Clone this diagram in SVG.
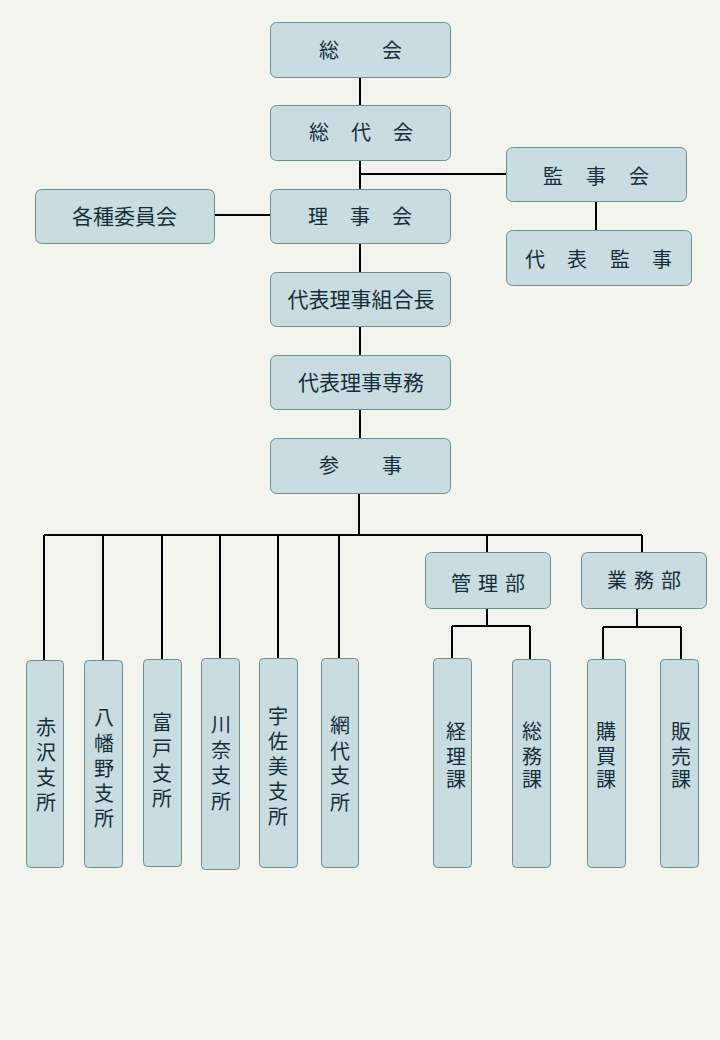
<svg xmlns="http://www.w3.org/2000/svg" width="720" height="1040" viewBox="0 0 720 1040">
<style>
.bg{fill:#f3f4ee}
.box{fill:#c9dce0;stroke:#6e8e90;stroke-width:1}
.t{font-family:"Noto Sans CJK JP","Noto Sans CJK SC",sans-serif;font-size:20px;font-weight:400;fill:#15303a;text-anchor:middle;dominant-baseline:central}
.h{font-size:21px}
.ln{stroke:#000;stroke-width:2;fill:none}
</style>
<rect class="bg" x="0" y="0" width="720" height="1040"/>
<g id="connectors">
<path class="ln" d="M360 77V272M360 174H506M214 215H270M596 201V230M360 326V355M360 409V438M359 493V535M44 535H642M44 535V660M103 535V660M162 535V659M220 535V658M278 535V658M339 535V658M487 535V552M642 535V552M487 608V626M452 626H530M452 626V658M530 626V659M637 608V627M603 627H681M603 627V659M681 627V659"/>
</g>
<g id="n-soukai"><rect class="box" x="270.5" y="22.5" width="180" height="55" rx="6"/><text class="t" x="329 360 392" y="49">総　会</text></g>
<g id="n-soudaikai"><rect class="box" x="270.5" y="105.5" width="180" height="55" rx="6"/><text class="t" x="319 340 361 382 403" y="131">総　代　会</text></g>
<g id="n-rijikai"><rect class="box" x="270.5" y="189.5" width="180" height="54" rx="6"/><text class="t" x="318 339 360 381 402" y="215">理　事　会</text></g>
<g id="n-iinkai"><rect class="box" x="35.5" y="189.5" width="179" height="54" rx="6"/><text class="t h" x="124.5" y="215">各種委員会</text></g>
<g id="n-kanjikai"><rect class="box" x="506.5" y="147.5" width="180" height="54" rx="6"/><text class="t" x="553 574.5 596 617.5 639" y="175">監　事　会</text></g>
<g id="n-daihyokanji"><rect class="box" x="506.5" y="230.5" width="185" height="55" rx="6"/><text class="t" x="535 556 577 598.5 620 641 662" y="258">代　表　監　事</text></g>
<g id="n-kumiaicho"><rect class="box" x="270.5" y="272.5" width="180" height="54" rx="6"/><text class="t h" x="361" y="298">代表理事組合長</text></g>
<g id="n-senmu"><rect class="box" x="270.5" y="355.5" width="180" height="54" rx="6"/><text class="t h" x="361" y="381">代表理事専務</text></g>
<g id="n-sanji"><rect class="box" x="270.5" y="438.5" width="180" height="55" rx="6"/><text class="t" x="329 360 392" y="464">参　事</text></g>
<g id="n-kanribu"><rect class="box" x="425.5" y="552.5" width="125" height="56" rx="6"/><text class="t" x="461 474.5 488 501.5 515" y="582">管 理 部</text></g>
<g id="n-gyomubu"><rect class="box" x="581.5" y="552.5" width="125" height="56" rx="6"/><text class="t" x="617 630.5 644 657.5 671" y="579">業 務 部</text></g>
<g id="n-akazawa"><rect class="box" x="26.5" y="660.5" width="37" height="207" rx="4"/><text class="t" x="46 46 46 46" y="726 751 776 801">赤沢支所</text></g>
<g id="n-yawatano"><rect class="box" x="84.5" y="660.5" width="38" height="207" rx="4"/><text class="t" x="104 104 104 104 104" y="716 742 767 792 817">八幡野支所</text></g>
<g id="n-futo"><rect class="box" x="143.5" y="659.5" width="38" height="207" rx="4"/><text class="t" x="162 162 162 162" y="721 747 772 797">富戸支所</text></g>
<g id="n-kawana"><rect class="box" x="201.5" y="658.5" width="38" height="211" rx="4"/><text class="t" x="221 221 221 221" y="723 749 774 800">川奈支所</text></g>
<g id="n-usami"><rect class="box" x="259.5" y="658.5" width="38" height="209" rx="4"/><text class="t" x="278 278 278 278 278" y="715 740 765 790 815">宇佐美支所</text></g>
<g id="n-ajiro"><rect class="box" x="321.5" y="658.5" width="37" height="209" rx="4"/><text class="t" x="340 340 340 340" y="724 750 774 801">網代支所</text></g>
<g id="n-keiri"><rect class="box" x="433.5" y="658.5" width="38" height="209" rx="4"/><text class="t" x="456 456 456" y="730 755 778">経理課</text></g>
<g id="n-somu"><rect class="box" x="512.5" y="659.5" width="38" height="208" rx="4"/><text class="t" x="532 532 532" y="730 755 778">総務課</text></g>
<g id="n-kobai"><rect class="box" x="587.5" y="659.5" width="38" height="208" rx="4"/><text class="t" x="606 606 606" y="730 755 778">購買課</text></g>
<g id="n-hanbai"><rect class="box" x="660.5" y="659.5" width="38" height="208" rx="4"/><text class="t" x="681 681 681" y="730 755 778">販売課</text></g>
</svg>
